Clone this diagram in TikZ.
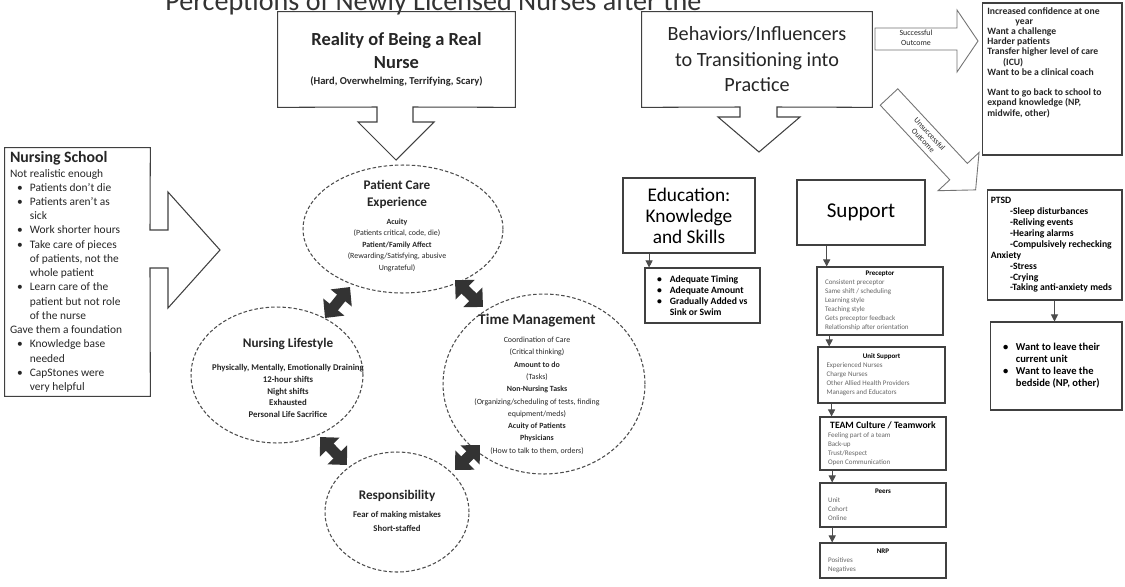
\documentclass[tikz,border=0pt]{standalone}
\usepackage{fontspec}
\setmainfont{Carlito}
\usetikzlibrary{shapes.geometric, arrows.meta, calc}

\newcommand{\fsz}[2]{\fontsize{#1}{#2}\selectfont}
\newcommand{\itm}{\hspace*{4pt}\makebox[7.3pt][l]{\textbullet}}
\newcommand{\cnt}{\hspace*{11.3pt}}
\newcommand{\boxhead}[1]{\makebox[\linewidth][c]{#1}\par}

\begin{document}
\begin{tikzpicture}[x=0.02cm, y=-0.02cm,
        box/.style={draw=black!75, line width=0.6pt, inner sep=0pt},
        arrbox/.style={draw=black!55, line width=0.5pt},
        oval/.style={ellipse, draw=black!70, dash pattern=on 2pt off 1.2pt,
            line width=0.6pt, inner sep=0pt},
        conn/.style={-{Triangle[length=4pt,width=4pt]}, draw=black!70, line width=0.5pt},
        dbl/.style={line width=6pt, draw=black!80,
            {Triangle[length=8pt,width=15pt]}-{Triangle[length=8pt,width=15pt]}},
        txt/.style={inner sep=0pt, text=black!85}]
    \useasboundingbox (0,0) rectangle (1125,586);
    \fill[white] (0,0) rectangle (1125,586);

    \node[txt, anchor=base west, text=black!80, font=\fsz{16}{18}] (title) at (165,10)
        {Perceptions of Newly Licensed Nurses after the};

    % nursing school with right arrow
    \node[txt, minimum width=2.9cm, minimum height=4.96cm, text width=2.7cm, align=flush left] (school) at (77.5,272)
        {{\fsz{9}{12}\bfseries Nursing School\par}
        \fsz{6.5}{8.1}Not realistic enough\\
        \itm Patients don't die\\
        \itm Patients aren't as\\
        \cnt sick\\
        \itm Work shorter hours\\
        \itm Take care of pieces\\
        \cnt of patients, not the\\
        \cnt whole patient\\
        \itm Learn care of the\\
        \cnt patient but not role\\
        \cnt of the nurse\\
        Gave them a foundation\\
        \itm Knowledge base\\
        \cnt needed\\
        \itm CapStones were\\
        \cnt very helpful\par};
    \draw[box] (school.north west) -- (school.north east) -- (150,230) -- (168,230) -- (168,192)
        -- (220,250) -- (168,308) -- (168,268) -- (150,268) -- (school.south east)
        -- (school.south west) -- cycle;

    % reality with down arrow
    \node[txt, minimum width=4.74cm, minimum height=1.9cm, text width=4.6cm, align=flush center] (reality) at (396.5,59.5)
        {{\fsz{10.5}{13}\bfseries Reality of Being a Real\\Nurse\par}
        {\fsz{6}{9}\bfseries (Hard, Overwhelming, Terrifying, Scary)\par}};
    \draw[box] (reality.north west) -- (reality.north east) -- (reality.south east) -- (413,107)
        -- (413,122) -- (434,122) -- (396,160) -- (358,122) -- (377,122) -- (377,107)
        -- (reality.south west) -- cycle;

    % behaviors with down arrow
    \node[txt, minimum width=4.6cm, minimum height=1.9cm, text width=4.4cm, align=flush center,
        font=\fsz{11.5}{14.5}] (behav) at (757,59.5)
        {Behaviors/Influencers\\to Transitioning into\\Practice};
    \draw[box] (behav.north west) -- (behav.north east) -- (behav.south east) -- (777,107)
        -- (777,117) -- (800,117) -- (759,152) -- (718,117) -- (740,117) -- (740,107)
        -- (behav.south west) -- cycle;

    % outcome arrows
    \draw[arrbox] (875,28) -- (957,28) -- (957,10) -- (978,41) -- (957,72) -- (957,50) -- (875,50) -- cycle;
    \node[txt, align=center, font=\fsz{4.5}{5.5}] (succ) at (916,38) {Successful\\Outcome};
    \begin{scope}[shift={(889,97)}, rotate=-47]
        \draw[arrbox] (0,-12) -- (102,-12) -- (102,-28) -- (127,0) -- (102,28) -- (102,12) -- (0,12) -- cycle;
        \node[txt, align=center, rotate=-47, font=\fsz{4.5}{5}] (unsucc) at (55,0) {Unsuccessful\\Outcome};
    \end{scope}

    % outcome boxes
    \node[box, minimum width=2.8cm, minimum height=3.04cm] (good) at (1052,79) {};
    \node[txt, anchor=north west, align=left, font=\fsz{5.5}{5.8}\bfseries] (goodtxt) at (987,7)
        {Increased confidence at one\\
        \hspace*{16pt}year\\
        Want a challenge\\
        Harder patients\\
        Transfer higher level of care\\
        \hspace*{9pt}(ICU)\\
        Want to be a clinical coach\\[5.8pt]
        Want to go back to school to\\
        expand knowledge (NP,\\
        midwife, other)};
    \node[box, minimum width=2.7cm, minimum height=2.2cm, text width=2.55cm, align=flush left,
        font=\fsz{5.5}{6.2}\bfseries] (ptsd) at (1054.5,245)
        {PTSD\\
        \hspace*{11pt}-Sleep disturbances\\
        \hspace*{11pt}-Reliving events\\
        \hspace*{11pt}-Hearing alarms\\
        \hspace*{11pt}-Compulsively rechecking\\
        Anxiety\\
        \hspace*{11pt}-Stress\\
        \hspace*{11pt}-Crying\\
        \hspace*{11pt}-Taking anti-anxiety meds};
    \node[box, minimum width=2.64cm, minimum height=1.76cm, text width=2.4cm, align=flush left,
        font=\fsz{6}{6.8}\bfseries] (leave) at (1056,366)
        {\itm Want to leave their\\
        \cnt current unit\\
        \itm Want to leave the\\
        \cnt bedside (NP, other)};
    \draw[conn] (ptsd.south) -- (ptsd.south |- leave.north);

    % education
    \node[box, minimum width=2.64cm, minimum height=1.5cm, align=center, font=\fsz{11}{12}] (edu) at (689,215.5)
        {Education:\\Knowledge\\and Skills};
    \node[box, minimum width=2.3cm, minimum height=1.1cm, text width=2.1cm, align=flush left,
        font=\fsz{5.5}{6.2}\bfseries] (adeq) at (702.5,295.5)
        {\itm Adequate Timing\\
        \itm Adequate Amount\\
        \itm Gradually Added vs\\
        \cnt Sink or Swim};
    \coordinate (e1) at ($(edu.south west)!0.2!(edu.south east)$);
    \draw[conn] (e1) -- (e1 |- adeq.north);

    % support
    \node[box, minimum width=2.56cm, minimum height=1.3cm, font=\fsz{12}{14}] (supp) at (861,212.5) {Support};
    \node[box, minimum width=2.52cm, minimum height=1.36cm, text width=2.2cm, align=flush left,
        font=\fsz{4}{5.1}] (precep) at (880,301)
        {\boxhead{\bfseries Preceptor}\color{black!60}
        Consistent preceptor\\
        Same shift / scheduling\\
        Learning style\\
        Teaching style\\
        Gets preceptor feedback\\
        Relationship after orientation};
    \node[box, minimum width=2.54cm, minimum height=1.12cm, text width=2.2cm, align=flush left,
        font=\fsz{4}{5.1}] (unit) at (881.5,375)
        {\boxhead{\bfseries Unit Support}\color{black!60}
        Experienced Nurses\\
        Charge Nurses\\
        Other Allied Health Providers\\
        Managers and Educators};
    \node[box, minimum width=2.52cm, minimum height=1.06cm, text width=2.2cm, align=flush left,
        font=\fsz{4}{5.1}] (team) at (883,443.5)
        {\boxhead{\fsz{5.5}{7}\bfseries TEAM Culture / Teamwork}\color{black!60}
        Feeling part of a team\\
        Back-up\\
        Trust/Respect\\
        Open Communication};
    \node[box, minimum width=2.52cm, minimum height=0.88cm, text width=2.2cm, align=flush left,
        font=\fsz{4}{5.1}] (peers) at (883,505)
        {\boxhead{\bfseries Peers}\color{black!60}
        Unit\\
        Cohort\\
        Online};
    \node[box, minimum width=2.52cm, minimum height=0.7cm, text width=2.2cm, align=flush left,
        font=\fsz{4}{5.1}] (nrp) at (883,560.5)
        {\boxhead{\bfseries NRP}\color{black!60}
        Positives\\
        Negatives};

    \coordinate (s1) at ($(supp.south west)!0.234!(supp.south east)$);
    \coordinate (s2) at ($(precep.south west)!0.1!(precep.south east)$);
    \coordinate (s3) at ($(unit.south west)!0.11!(unit.south east)$);
    \coordinate (s4) at ($(team.south west)!0.1!(team.south east)$);
    \coordinate (s5) at ($(peers.south west)!0.1!(peers.south east)$);
    \draw[conn] (s1) -- (s1 |- precep.north);
    \draw[conn] (s2) -- (s2 |- unit.north);
    \draw[conn] (s3) -- (s3 |- team.north);
    \draw[conn] (s4) -- (s4 |- peers.north);
    \draw[conn] (s5) -- (s5 |- nrp.north);

    % cycle of ellipses
    \node[oval, minimum width=4cm, minimum height=2.56cm] (pce) at (403,229) {};
    \node[txt, text width=3.8cm, align=flush center] (pcetxt) at (397,226)
        {{\fsz{7.5}{9.6}\bfseries Patient Care\\Experience\par}\vspace{3.7pt}
        \fsz{4.5}{6.5}\textbf{Acuity}\\
        (Patients critical, code, die)\\
        \textbf{Patient/Family Affect}\\
        (Rewarding/Satisfying, abusive\\
        Ungrateful)\par};
    \node[oval, minimum width=3.44cm, minimum height=2.72cm] (life) at (277,375) {};
    \node[txt, text width=3.6cm, align=flush center] (lifetxt) at (288,378)
        {{\fsz{7.5}{9}\bfseries Nursing Lifestyle\par}\vspace{6.4pt}
        \fsz{5}{6.6}\bfseries Physically, Mentally, Emotionally Draining\\
        12-hour shifts\\
        Night shifts\\
        Exhausted\\
        Personal Life Sacrifice\par};
    \node[oval, minimum width=4.04cm, minimum height=3.6cm] (time) at (544,384) {};
    \node[txt, text width=3.8cm, align=flush center] (timetxt) at (537,384)
        {{\fsz{8.5}{10}\bfseries Time Management\par}\vspace{3.5pt}
        \fsz{4.5}{7}Coordination of Care\\
        (Critical thinking)\\
        \textbf{Amount to do}\\
        (Tasks)\\
        \textbf{Non-Nursing Tasks}\\
        (Organizing/scheduling of tests, finding\\
        equipment/meds)\\
        \textbf{Acuity of Patients}\\
        \textbf{Physicians}\\
        (How to talk to them, orders)\par};
    \node[oval, minimum width=2.88cm, minimum height=2.4cm] (resp) at (397,512) {};
    \node[txt, text width=2.6cm, align=flush center] (resptxt) at (397,511)
        {{\fsz{7.5}{9}\bfseries Responsibility\par}\vspace{2.2pt}
        \fsz{5}{8}\bfseries Fear of making mistakes\\
        Short-staffed\par};

    % double arrows between the ellipses
    \coordinate (pl1) at (350,287);
    \coordinate (pl2) at (325,318);
    \coordinate (pt1) at (455,280);
    \coordinate (pt2) at (483,307);
    \coordinate (lr1) at (320,437);
    \coordinate (lr2) at (347,465);
    \coordinate (tr1) at (480,445);
    \coordinate (tr2) at (455,470);
    \draw[dbl] (pl1) -- (pl2);
    \draw[dbl] (pt1) -- (pt2);
    \draw[dbl] (lr1) -- (lr2);
    \draw[dbl] (tr1) -- (tr2);
\end{tikzpicture}
\end{document}
